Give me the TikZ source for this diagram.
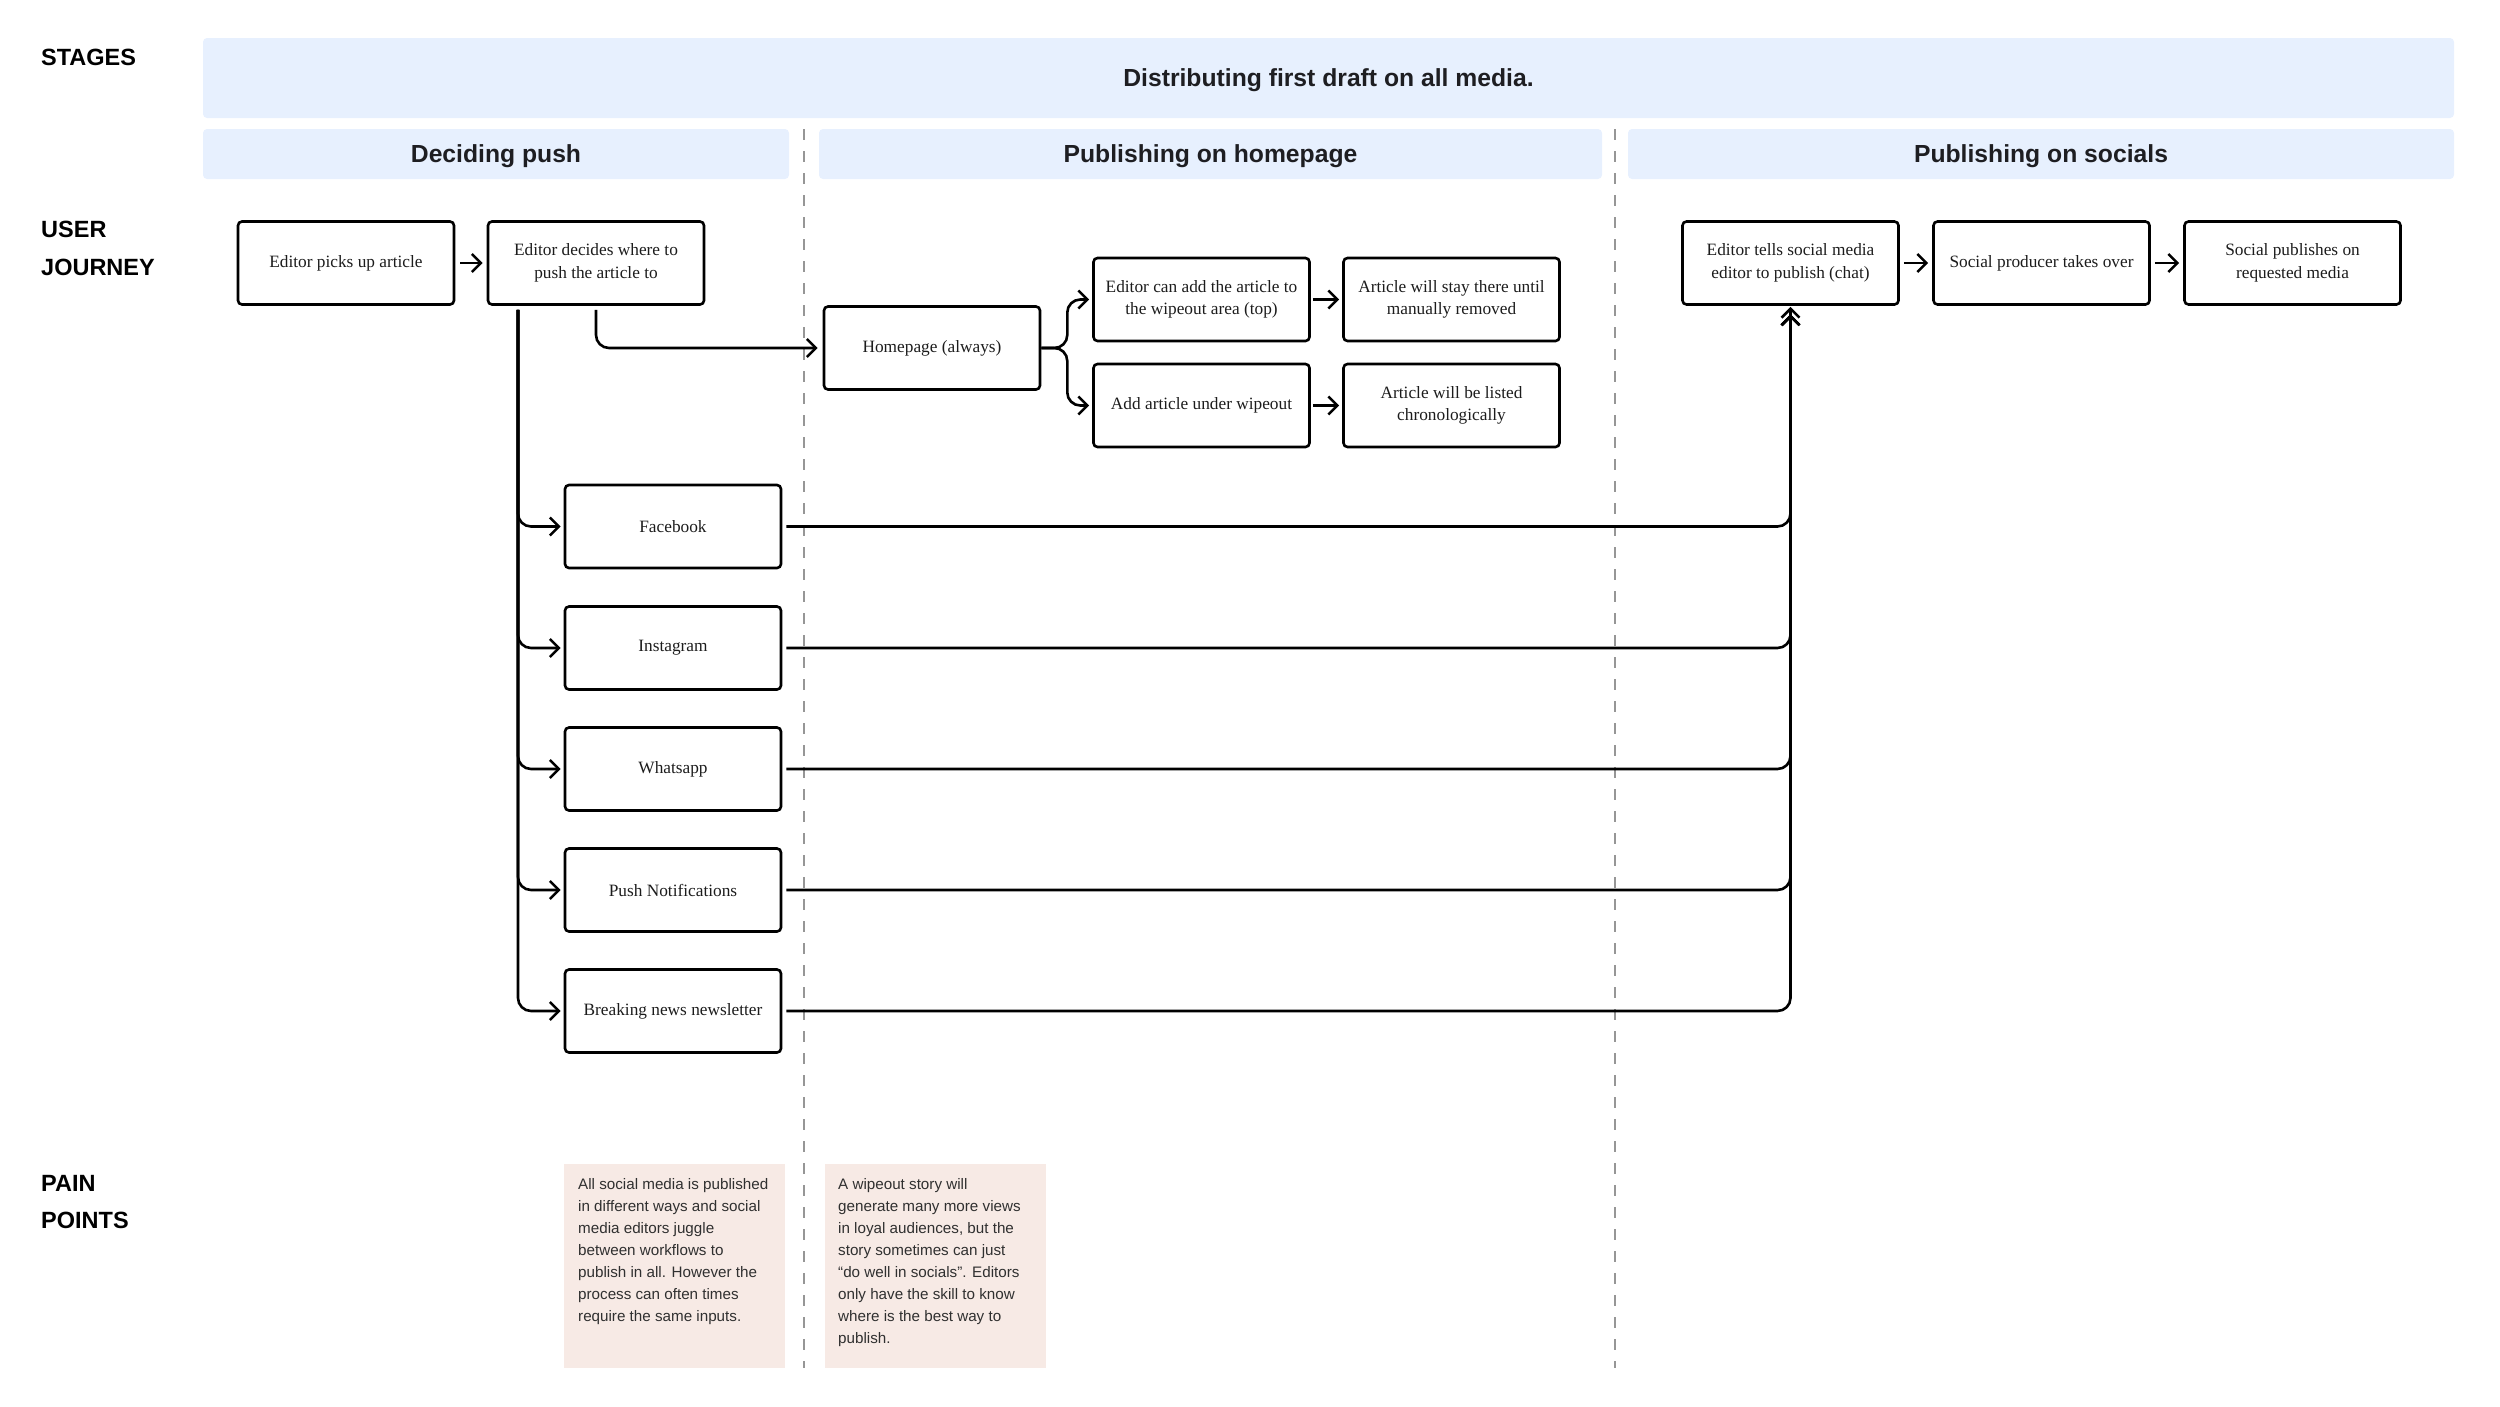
\documentclass[tikz,border=0pt]{standalone}
\usepackage{fontspec}
\setmainfont{Liberation Serif}
\newfontfamily\sansf{Liberation Sans}
\usetikzlibrary{arrows.meta}
\definecolor{bandblue}{RGB}{231,240,254}
\definecolor{painpink}{RGB}{247,234,229}
\definecolor{sepgray}{RGB}{150,150,150}
\definecolor{inkdark}{RGB}{30,30,34}
\definecolor{boxink}{RGB}{28,28,28}
\definecolor{paintext}{RGB}{48,48,48}
\begin{document}
\begin{tikzpicture}[x=1pt,y=-1pt,
  stepbox/.style={draw=black, line width=2.6pt, rounded corners=4pt,
    minimum width=216pt, minimum height=83pt, inner sep=0pt, align=center,
    text=boxink, font=\fontsize{17.3}{22.5}\selectfont},
  conn/.style={line width=2.6pt, rounded corners=13pt,
    -{Straight Barb[length=9pt,width=18pt]}},
  band/.style={fill=bandblue, rounded corners=4pt, inner sep=0pt,
    font=\sansf\bfseries\fontsize{24.7}{30}\selectfont, text=inkdark,
    text height=17.7pt, text depth=0pt},
  lanelabel/.style={anchor=west, inner sep=0pt, align=left,
    font=\sansf\bfseries\fontsize{23.5}{37.5}\selectfont, text=black},
  painbox/.style={fill=painpink, minimum width=221pt, minimum height=204pt, inner sep=0pt},
  painnote/.style={anchor=north west, inner sep=0pt, align=left,
    font=\sansf\fontsize{15.2}{22}\selectfont, text=paintext},
  sepline/.style={draw=sepgray, line width=1.4pt, dash pattern=on 11pt off 11pt}
]
\useasboundingbox (0,0) rectangle (2500,1406);

% lane labels
\node[lanelabel] (lstages) at (41,57) {STAGES};
\node[lanelabel] (ljourney) at (41,248.5) {USER\\JOURNEY};
\node[lanelabel] (lpain) at (41,1202) {PAIN\\POINTS};

% stage bands
\node[band, minimum width=2251pt, minimum height=80pt] (allmedia) at (1328.5,78) {Distributing first draft on all media.};
\node[band, minimum width=586pt, minimum height=50pt] (bpush) at (496,154) {Deciding push};
\node[band, minimum width=783pt, minimum height=50pt] (bhome) at (1210.5,154) {Publishing on homepage};
\node[band, minimum width=826pt, minimum height=50pt] (bsoc) at (2041,154) {Publishing on socials};

% separators
\draw[sepline] (804,129) -- (804,1368);
\draw[sepline] (1615,129) -- (1615,1368);

% journey boxes
\node[stepbox] (picks) at (346,263) {Editor picks up article};
\node[stepbox] (decides) at (596,263) {Editor decides where to\\push the article to};
\node[stepbox] (tells) at (1790.5,263) {Editor tells social media\\editor to publish (chat)};
\node[stepbox] (producer) at (2041.5,263) {Social producer takes over};
\node[stepbox] (publishes) at (2292.5,263) {Social publishes on\\requested media};

\node[stepbox] (home) at (932,348) {Homepage (always)};
\node[stepbox] (wipe) at (1201.5,299.5) {Editor can add the article to\\the wipeout area (top)};
\node[stepbox] (stays) at (1451.5,299.5) {Article will stay there until\\manually removed};
\node[stepbox] (addw) at (1201.5,405.5) {Add article under wipeout};
\node[stepbox] (listed) at (1451.5,405.5) {Article will be listed\\chronologically};

\node[stepbox] (fb) at (673,526.5) {Facebook};
\node[stepbox] (ig) at (673,648) {Instagram};
\node[stepbox] (wa) at (673,769) {Whatsapp};
\node[stepbox] (pn) at (673,890) {Push Notifications};
\node[stepbox] (bn) at (673,1011) {Breaking news newsletter};

% connectors
\draw[conn, shorten <=5pt, shorten >=4pt] (picks) -- (decides);
\draw[conn, shorten <=4pt, shorten >=4pt] (tells) -- (producer);
\draw[conn, shorten <=4pt, shorten >=4pt] (producer) -- (publishes);
\draw[conn, shorten <=4pt, shorten >=5pt] (decides.south) |- (home.west);
\draw[conn, shorten >=3pt] (home.east) -- ++(26,0) |- (wipe.west);
\draw[conn, shorten >=3pt] (home.east) -- ++(26,0) |- (addw.west);
\draw[conn, shorten <=2pt, shorten >=3pt] (wipe) -- (stays);
\draw[conn, shorten <=2pt, shorten >=3pt] (addw) -- (listed);

\foreach \ch in {fb,ig,wa,pn,bn}{
  \draw[conn, shorten <=4pt, shorten >=3pt] ([xshift=-78pt]decides.south) |- (\ch.west);
}
\draw[conn, shorten <=4pt, shorten >=1pt] (fb.east) -| (tells.south);
\foreach \ch in {ig,wa,pn,bn}{
  \draw[conn, shorten <=4pt, shorten >=8.5pt] (\ch.east) -| (tells.south);
}

% pain points
\node[painbox] (pain1) at (674.5,1266) {};
\node[painbox] (pain2) at (935,1266) {};
\node[painnote] (note1) at (578,1178) {All social media is published\\in different ways and social\\media editors juggle\\between workflows to\\publish in all. However the\\process can often times\\require the same inputs.};
\node[painnote] (note2) at (838,1178) {A wipeout story will\\generate many more views\\in loyal audiences, but the\\story sometimes can just\\“do well in socials”. Editors\\only have the skill to know\\where is the best way to\\publish.};
\end{tikzpicture}
\end{document}
